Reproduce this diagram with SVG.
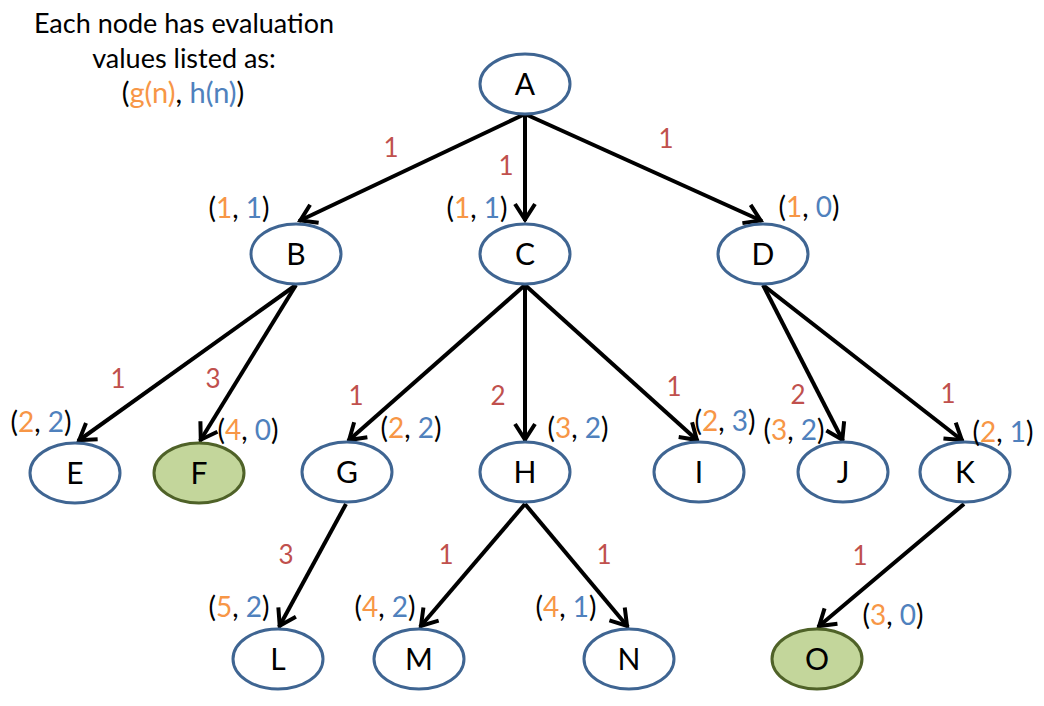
<svg xmlns="http://www.w3.org/2000/svg" width="1044" height="706" viewBox="0 0 1044 706">
<style>
.n ellipse{fill:#fff;stroke:#3F6592;stroke-width:3}
.n.goal ellipse{fill:#C3D69B;stroke:#4F6228}
text.k{font-family:Lato,"Liberation Sans",sans-serif;font-size:30px;fill:#000;text-anchor:middle}
.e line{stroke:#000;stroke-width:4;marker-end:url(#arr)}
text.w{font-family:Lato,"Liberation Sans",sans-serif;font-size:26px;fill:#C0504D;text-anchor:middle}
text.v{font-family:Lato,"Liberation Sans",sans-serif;font-size:28px;fill:#000;text-anchor:middle}
.g{fill:#F79646}.h{fill:#4F81BD}
text.t{font-family:Lato,"Liberation Sans",sans-serif;font-size:27px;fill:#000;text-anchor:middle}
</style>
<defs>
<marker id="arr" markerUnits="userSpaceOnUse" markerWidth="30" markerHeight="30" viewBox="-20 -15 30 30" refX="0" refY="0" orient="auto">
<path d="M-17,-10 L-1.5,0 L-17,10" fill="none" stroke="#000" stroke-width="4"/>
</marker>
</defs>
<g id="legend">
<text class="t" x="184" y="33">Each node has evaluation</text>
<text class="t" x="184" y="68">values listed as:</text>
<text class="t" x="183" y="103" style="font-size:29px">(<tspan class="g">g(n)</tspan>, <tspan class="h">h(n)</tspan>)</text>
</g>
<g id="connectors" class="e">
<line x1="525" y1="114" x2="299" y2="221"/>
<line x1="525" y1="114" x2="525" y2="221"/>
<line x1="525" y1="114" x2="762" y2="221"/>
<line x1="296" y1="285" x2="78" y2="441"/>
<line x1="296" y1="285" x2="200" y2="441"/>
<line x1="525" y1="285" x2="348" y2="441"/>
<line x1="525" y1="285" x2="525" y2="441"/>
<line x1="525" y1="285" x2="698" y2="441"/>
<line x1="763" y1="285" x2="843" y2="441"/>
<line x1="763" y1="285" x2="963" y2="441"/>
<line x1="346" y1="504" x2="279" y2="627"/>
<line x1="525" y1="504" x2="420" y2="627"/>
<line x1="525" y1="504" x2="628" y2="627"/>
<line x1="964" y1="504" x2="818" y2="627"/>
</g>
<g id="edge-labels">
<text class="w" x="391" y="157">1</text>
<text class="w" x="506" y="175">1</text>
<text class="w" x="666" y="148">1</text>
<text class="w" x="118" y="388">1</text>
<text class="w" x="213" y="388">3</text>
<text class="w" x="356" y="405">1</text>
<text class="w" x="498" y="405">2</text>
<text class="w" x="674" y="396">1</text>
<text class="w" x="798" y="404">2</text>
<text class="w" x="948" y="403">1</text>
<text class="w" x="286" y="564">3</text>
<text class="w" x="446" y="564">1</text>
<text class="w" x="604" y="564">1</text>
<text class="w" x="860" y="565">1</text>
</g>
<g id="A" class="n"><ellipse cx="525" cy="84" rx="45" ry="30"/><text class="k" x="525" y="95">A</text></g>
<g id="B" class="n"><ellipse cx="296" cy="254" rx="45" ry="30"/><text class="k" x="296" y="265">B</text><text class="v" x="239" y="218">(<tspan class="g">1</tspan>, <tspan class="h">1</tspan>)</text></g>
<g id="C" class="n"><ellipse cx="525" cy="254" rx="45" ry="30"/><text class="k" x="525" y="265">C</text><text class="v" x="477" y="218">(<tspan class="g">1</tspan>, <tspan class="h">1</tspan>)</text></g>
<g id="D" class="n"><ellipse cx="763" cy="254" rx="45" ry="30"/><text class="k" x="763" y="265">D</text><text class="v" x="809" y="217">(<tspan class="g">1</tspan>, <tspan class="h">0</tspan>)</text></g>
<g id="E" class="n"><ellipse cx="75" cy="473" rx="45" ry="30"/><text class="k" x="75" y="484">E</text><text class="v" x="41" y="432">(<tspan class="g">2</tspan>, <tspan class="h">2</tspan>)</text></g>
<g id="F" class="n goal"><ellipse cx="199" cy="473" rx="45" ry="30"/><text class="k" x="199" y="484">F</text><text class="v" x="248" y="440">(<tspan class="g">4</tspan>, <tspan class="h">0</tspan>)</text></g>
<g id="G" class="n"><ellipse cx="347" cy="472" rx="45" ry="30"/><text class="k" x="347" y="483">G</text><text class="v" x="411" y="438">(<tspan class="g">2</tspan>, <tspan class="h">2</tspan>)</text></g>
<g id="H" class="n"><ellipse cx="525" cy="472" rx="45" ry="30"/><text class="k" x="525" y="483">H</text><text class="v" x="578" y="438">(<tspan class="g">3</tspan>, <tspan class="h">2</tspan>)</text></g>
<g id="I" class="n"><ellipse cx="699" cy="472" rx="45" ry="30"/><text class="k" x="699" y="483">I</text><text class="v" x="725" y="431">(<tspan class="g">2</tspan>, <tspan class="h">3</tspan>)</text></g>
<g id="J" class="n"><ellipse cx="843" cy="472" rx="45" ry="30"/><text class="k" x="843" y="483">J</text><text class="v" x="794" y="440">(<tspan class="g">3</tspan>, <tspan class="h">2</tspan>)</text></g>
<g id="K" class="n"><ellipse cx="965" cy="472" rx="45" ry="30"/><text class="k" x="965" y="483">K</text><text class="v" x="1003" y="442">(<tspan class="g">2</tspan>, <tspan class="h">1</tspan>)</text></g>
<g id="L" class="n"><ellipse cx="278" cy="659" rx="45" ry="30"/><text class="k" x="278" y="670">L</text><text class="v" x="239" y="617">(<tspan class="g">5</tspan>, <tspan class="h">2</tspan>)</text></g>
<g id="M" class="n"><ellipse cx="419" cy="659" rx="45" ry="30"/><text class="k" x="419" y="670">M</text><text class="v" x="385" y="617">(<tspan class="g">4</tspan>, <tspan class="h">2</tspan>)</text></g>
<g id="N" class="n"><ellipse cx="629" cy="659" rx="45" ry="30"/><text class="k" x="629" y="670">N</text><text class="v" x="566" y="617">(<tspan class="g">4</tspan>, <tspan class="h">1</tspan>)</text></g>
<g id="O" class="n goal"><ellipse cx="817" cy="659" rx="45" ry="30"/><text class="k" x="817" y="670">O</text><text class="v" x="893" y="625">(<tspan class="g">3</tspan>, <tspan class="h">0</tspan>)</text></g>
</svg>
